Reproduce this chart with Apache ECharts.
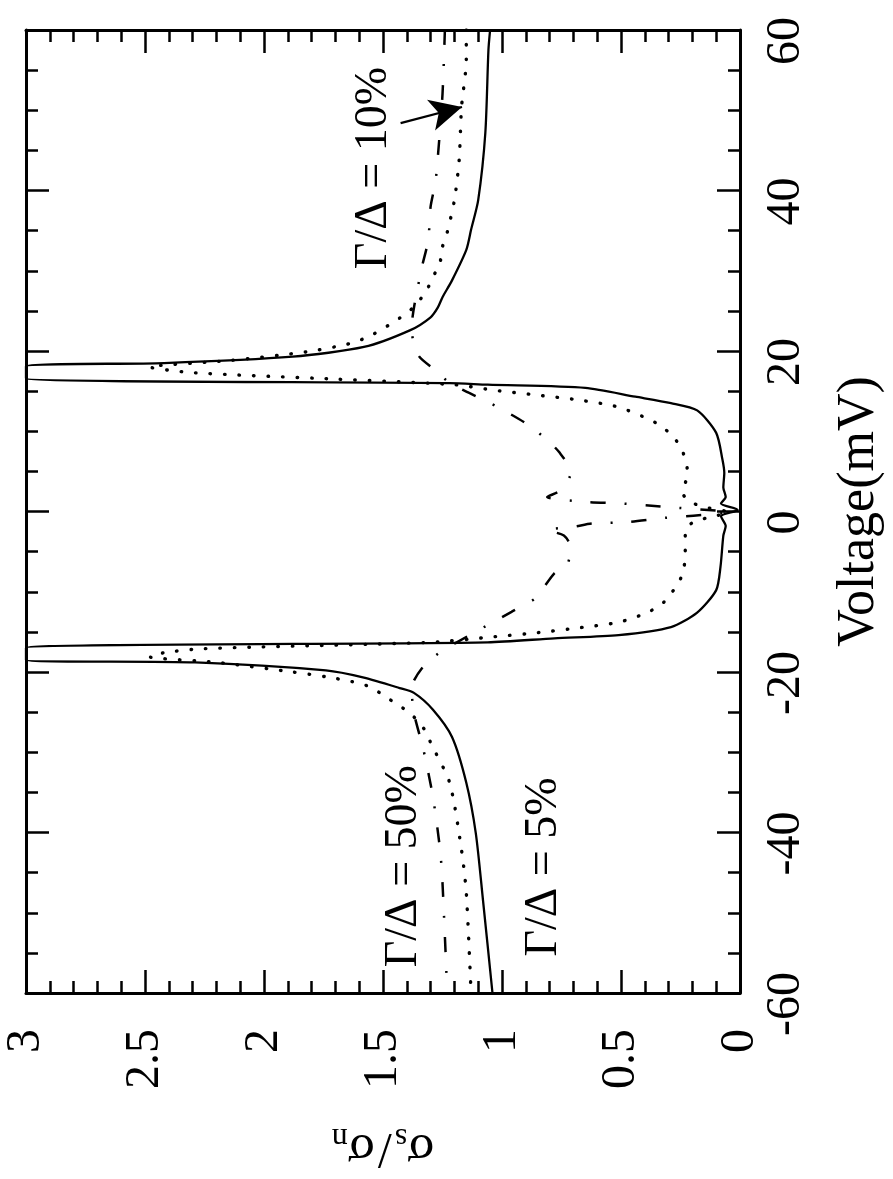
<!DOCTYPE html>
<html>
<head>
<meta charset="utf-8">
<script src="https://cdn.jsdelivr.net/npm/echarts@6/dist/echarts.min.js"></script>
<style>
  html, body { margin: 0; padding: 0; background: #fff; }
  #chart { width: 893px; height: 1179px; }
</style>
</head>
<body>
<div id="chart"></div>
<script>
// Voltage (mV) and normalised conductance
const solidV = [60, 57.5, 47.2, 38.8, 35.1, 32.6, 28.8, 26.7, 25.4, 24.2, 22.6, 20.5, 19.3, 18.5, 18.1,
  16.6, 16.0, 15.8, 15.4, 14.3, 13.5, 12.6, 9.8, 6.5, 4.8, 3.0, 1.8, 1.0, 0.2, -0.6, -1.8, -3.0,
  -6.9, -9.8, -12.6, -14.4, -15.4, -15.8, -16.3, -17.0, -18.5, -18.8, -19.8, -20.7, -22.0, -22.6,
  -24.7, -28.1, -33.8, -40.1, -48.4, -60];
const solidS = [1.05, 1.057, 1.07, 1.10, 1.13, 1.15, 1.21, 1.25, 1.27, 1.30, 1.385, 1.58, 1.88, 2.42, 3.0,
  3.0, 1.22, 1.06, 0.65, 0.44, 0.29, 0.18, 0.10, 0.074, 0.066, 0.07, 0.06, 0.08, 0.01, 0.08, 0.06, 0.07,
  0.082, 0.10, 0.18, 0.29, 0.51, 0.78, 1.06, 3.0, 3.0, 2.29, 1.74, 1.58, 1.43, 1.37,
  1.29, 1.21, 1.15, 1.11, 1.08, 1.04];

const dotV = [60, 56.3, 50.4, 43.8, 38.8, 34.8, 33.0, 31.1, 29.2, 27.4, 25.5, 24.1, 22.1, 21.0, 19.9,
  18.8, 18.0, 17.3, 16.5, 15.8, 15.1, 14.5, 13.9, 13.0, 11.0, 9.3, 7.4, 4.8, 2.3, 1.2, 0.5, -0.1, -0.8,
  -1.4, -2.3, -5.2, -7.7, -9.4, -11.3, -12.6, -13.8, -14.5, -15.1, -15.6, -16.3, -17.1, -17.6, -18.1,
  -18.8, -20.0, -20.6, -21.2, -21.9, -23.1, -24.2, -25.6, -27.4, -28.8, -33.8, -42.2, -47.5, -60];
const dotS = [1.15, 1.15, 1.17, 1.18, 1.20, 1.23, 1.25, 1.26, 1.29, 1.32, 1.37, 1.43, 1.54, 1.63, 1.82,
  2.15, 2.48, 2.30, 1.70, 1.20, 1.03, 0.85, 0.68, 0.51, 0.35, 0.28, 0.24, 0.22, 0.24, 0.21, 0.14, 0.05, 0.14,
  0.20, 0.23, 0.23, 0.24, 0.27, 0.32, 0.39, 0.51, 0.68, 0.85, 1.03, 1.30, 2.26, 2.42, 2.48,
  2.20, 1.88, 1.74, 1.63, 1.55, 1.49, 1.43, 1.37, 1.32, 1.30, 1.22, 1.17, 1.15, 1.13];

const dashV = [60, 52, 44, 41, 38, 33.8, 30, 22.7, 19.4, 17.4, 16.0, 14.8, 13.5, 12.4, 10.8, 8.9, 7.4,
  4.9, 2.7, 1.8, 1.2, 1.0, 0.6, -0.1, -0.8, -1.3, -1.5, -1.9, -2.3, -3.0, -4.5, -6.9, -7.7, -10.8,
  -12.5, -13.5, -14.8, -16.3, -17.3, -19.3, -22.0, -25.1, -29.7, -35.6, -42.2, -46.3, -60];
const dashS = [1.24, 1.25, 1.27, 1.28, 1.30, 1.31, 1.34, 1.38, 1.35, 1.27, 1.22, 1.14, 1.05, 0.98, 0.89, 0.81, 0.76,
  0.71, 0.75, 0.81, 0.65, 0.50, 0.33, 0.05, 0.32, 0.47, 0.62, 0.70, 0.81, 0.74, 0.71, 0.73, 0.78, 0.86,
  0.96, 1.02, 1.10, 1.19, 1.25, 1.33, 1.38, 1.37, 1.33, 1.29, 1.26, 1.25, 1.23];

// curve labels: [sigma, voltage] where the text sits
const labelSolid = { text: 'Γ/Δ = 5%', at: [0.824, -44.3] };
const labelDot = { text: 'Γ/Δ = 10%', at: [1.537, 42.8] };
const labelDash = { text: 'Γ/Δ = 50%', at: [1.414, -44.2] };
const arrowFrom = [1.426, 48.4];
const arrowTo = [1.168, 50.4];

const FONT = '"Liberation Serif", "DejaVu Serif", serif';
const pairs = (v, s) => v.map((x, i) => [s[i], x]);

const chart = echarts.init(document.getElementById('chart'));

const tickStyle = { show: true, inside: true, length: 23, lineStyle: { color: '#000', width: 2.5 } };
const minorStyle = { show: true, length: 12, lineStyle: { color: '#000', width: 2.5 } };
const lineAxis = { show: true, onZero: false, lineStyle: { color: '#000', width: 3 } };

const annot = (lab) => ({
  silent: true,
  symbol: 'circle',
  symbolSize: 0,
  label: {
    show: true, position: 'inside', rotate: 90, formatter: '{b}',
    color: '#000', fontSize: 46, fontFamily: FONT
  },
  data: [{ name: lab.text, coord: lab.at }]
});

const option = {
  backgroundColor: '#fff',
  animation: false,
  grid: { left: 26, right: 135, top: 30, bottom: 186, containLabel: false },
  xAxis: [
    {
      type: 'value', min: 0, max: 3, interval: 0.5, inverse: true, position: 'bottom',
      axisLine: lineAxis, axisTick: tickStyle, minorTick: Object.assign({ splitNumber: 5 }, minorStyle),
      splitLine: { show: false },
      axisLabel: { rotate: 90, margin: 36, color: '#000', fontSize: 48, fontFamily: FONT },
      name: '{g|σ}{sub|s} {g|/} {g|σ}{sub|n}',
      nameLocation: 'middle', nameRotate: 180, nameGap: 128,
      nameTextStyle: {
        color: '#000', fontFamily: FONT,
        rich: {
          g: { fontSize: 50, fontFamily: FONT, color: '#000' },
          sub: { fontSize: 32, fontFamily: FONT, color: '#000', verticalAlign: 'bottom', padding: [22, 0, 0, 0] }
        }
      }
    },
    {
      type: 'value', min: 0, max: 3, interval: 0.5, inverse: true, position: 'top',
      axisLine: lineAxis, axisTick: tickStyle, minorTick: Object.assign({ splitNumber: 5 }, minorStyle),
      splitLine: { show: false }, axisLabel: { show: false }
    }
  ],
  yAxis: [
    {
      type: 'value', min: -60, max: 60, interval: 20, position: 'right',
      axisLine: lineAxis, axisTick: tickStyle, minorTick: Object.assign({ splitNumber: 4 }, minorStyle),
      splitLine: { show: false },
      axisLabel: { rotate: 90, margin: 22, color: '#000', fontSize: 48, fontFamily: FONT, padding: [0, 22, 0, 0] },
      name: 'Voltage(mV)', nameLocation: 'middle', nameRotate: 90, nameGap: 93,
      nameTextStyle: { color: '#000', fontSize: 52, fontFamily: FONT }
    },
    {
      type: 'value', min: -60, max: 60, interval: 20, position: 'left',
      axisLine: lineAxis, axisTick: tickStyle, minorTick: Object.assign({ splitNumber: 4 }, minorStyle),
      splitLine: { show: false }, axisLabel: { show: false }
    }
  ],
  series: [
    {
      name: 'Γ/Δ = 5%', type: 'line', xAxisIndex: 0, yAxisIndex: 0,
      data: pairs(solidV, solidS), showSymbol: false, clip: true, smooth: 0.25,
      lineStyle: { color: '#000', width: 2.3, type: 'solid' },
      markPoint: annot(labelSolid)
    },
    {
      name: 'Γ/Δ = 10%', type: 'line', xAxisIndex: 0, yAxisIndex: 0,
      data: pairs(dotV, dotS), showSymbol: false, clip: true, smooth: 0.25,
      lineStyle: { color: '#000', width: 3.4, type: [0.5, 14], cap: 'round' },
      markPoint: annot(labelDot),
      markLine: {
        silent: true, symbol: ['none', 'arrow'], symbolSize: [24, 32],
        label: { show: false },
        lineStyle: { color: '#000', width: 2.2, type: 'solid' },
        data: [[{ coord: arrowFrom }, { coord: arrowTo }]]
      }
    },
    {
      name: 'Γ/Δ = 50%', type: 'line', xAxisIndex: 0, yAxisIndex: 0,
      data: pairs(dashV, dashS), showSymbol: false, clip: true, smooth: 0.25,
      lineStyle: { color: '#000', width: 2.5, type: [15, 19, 2, 19] },
      markPoint: annot(labelDash)
    }
  ]
};

chart.setOption(option);
</script>
</body>
</html>
